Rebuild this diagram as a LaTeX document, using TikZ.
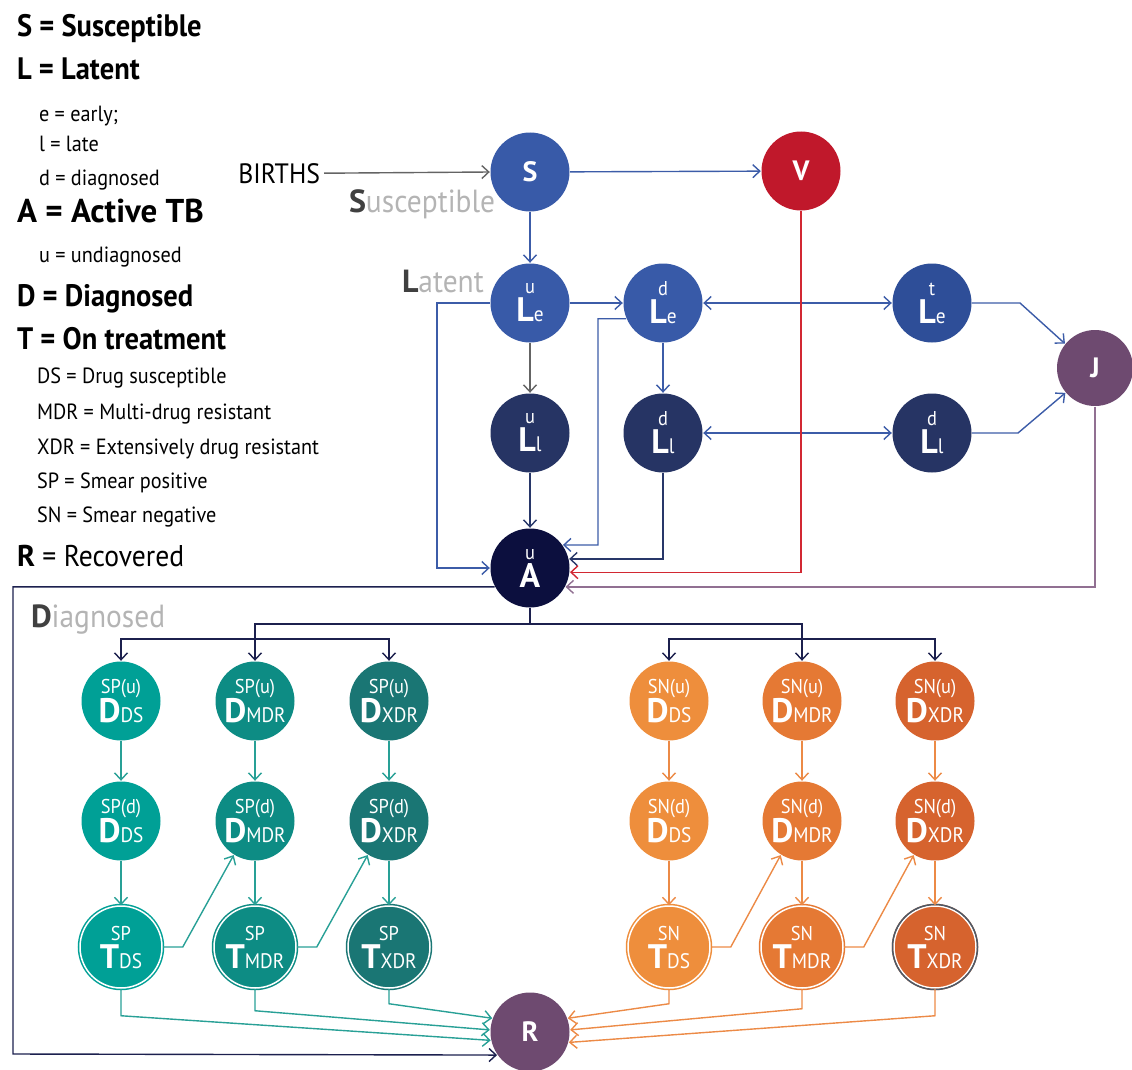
\documentclass[tikz,border=0pt]{standalone}
\usepackage{fontspec}
\setmainfont{PT Sans}[FakeStretch=0.92]
\newfontfamily\widefont{PT Sans}
\usetikzlibrary{arrows.meta}
\definecolor{tbBlue}{RGB}{56,90,168}
\definecolor{tbBlueDk}{RGB}{46,78,152}
\definecolor{tbNavy}{RGB}{38,52,100}
\definecolor{tbInk}{RGB}{12,15,62}
\definecolor{tbRed}{RGB}{192,24,43}
\definecolor{tbPlum}{RGB}{110,74,112}
\definecolor{spA}{RGB}{0,160,150}
\definecolor{spB}{RGB}{13,140,132}
\definecolor{spC}{RGB}{26,118,116}
\definecolor{snA}{RGB}{238,142,60}
\definecolor{snB}{RGB}{229,121,52}
\definecolor{snC}{RGB}{214,99,46}
\definecolor{arBlue}{RGB}{60,92,168}
\definecolor{arGray}{RGB}{100,100,100}
\definecolor{arNavy}{RGB}{40,55,105}
\definecolor{arInk}{RGB}{28,32,78}
\definecolor{arRed}{RGB}{210,40,50}
\definecolor{arPlum}{RGB}{145,112,146}
\definecolor{arTeal}{RGB}{40,160,150}
\definecolor{arOrange}{RGB}{236,138,70}
\definecolor{labGray}{RGB}{180,180,180}
\definecolor{ringGray}{RGB}{75,90,105}
\newcommand{\comp}[3]{{\fontsize{20}{20}\selectfont #1}\\{\widefont\bfseries\fontsize{34}{34}\selectfont #2}{\fontsize{21}{21}\selectfont #3}}
\tikzset{
  comp/.style={circle,fill=#1,text=white,minimum size=79pt,inner sep=0pt,
    align=center,font=\fontsize{20}{28}\selectfont},
  tcomp/.style={comp=#1,minimum size=82pt,draw=#1,double=white,
    line width=1.5pt,double distance=1.5pt},
  single/.style={comp=#1,font=\widefont\bfseries\fontsize{28}{28}\selectfont},
  legbig/.style={anchor=base west,font=\fontsize{31}{31}\selectfont\bfseries},
  legsmall/.style={anchor=base west,font=\fontsize{22}{22}\selectfont},
  tag/.style={anchor=base west,font=\fontsize{32}{32}\selectfont,text=labGray}
}

\begin{document}
\begin{tikzpicture}[x=1pt,y=-1pt,line width=1.4pt,
    >={Straight Barb[length=7pt,width=13pt]}]
  \useasboundingbox (0,0) rectangle (1132,1070);
  % legend
  \node[legbig] (kS) at (13,37) {S = Susceptible};
  \node[legbig] (kL) at (13,80) {L = Latent};
  \node[legsmall] (ke) at (35,122) {e = early;};
  \node[legsmall] (kl) at (35,152) {l = late};
  \node[legsmall] (kd) at (35,185) {d = diagnosed};
  \node[anchor=base west,font=\widefont\bfseries\fontsize{33}{33}\selectfont] (kA) at (13,222) {A = Active TB};
  \node[legsmall] (ku) at (35,262) {u = undiagnosed};
  \node[legbig] (kD) at (13,306) {D = Diagnosed};
  \node[legbig] (kT) at (13,349) {T = On treatment};
  \node[legsmall] (kDS) at (33,383) {DS = Drug susceptible};
  \node[legsmall] (kMDR) at (33,419) {MDR = Multi-drug resistant};
  \node[legsmall] (kXDR) at (33,454) {XDR = Extensively drug resistant};
  \node[legsmall] (kSP) at (33,488) {SP = Smear positive};
  \node[legsmall] (kSN) at (33,522) {SN = Smear negative};
  \node[anchor=base west,font=\fontsize{30}{30}\selectfont] (kR) at (13,566) {{\widefont\bfseries R} = Recovered};

  % susceptible and latent
  \node[anchor=base east,font=\fontsize{28}{28}\selectfont] (births) at (324,183) {BIRTHS};
  \node[single=tbBlue] (S) at (530,172) {S};
  \node[single=tbRed] (V) at (801,171) {V};
  \node[comp=tbBlue] (Leu) at (530,303) {\comp{u}{L}{e}};
  \node[comp=tbBlue] (Led) at (663,303) {\comp{d}{L}{e}};
  \node[comp=tbBlueDk] (Let) at (932,303) {\comp{t}{L}{e}};
  \node[comp=tbNavy] (Llu) at (530,433) {\comp{u}{L}{l}};
  \node[comp=tbNavy] (Lld) at (663,433) {\comp{d}{L}{l}};
  \node[comp=tbNavy] (Lld2) at (932,433) {\comp{d}{L}{l}};
  \node[single=tbPlum,minimum size=76pt] (J) at (1095,368) {J};
  \node[comp=tbInk] (A) at (530,568) {\comp{u}{A}{}};
  \node[tag] (labS) at (345,212) {{\widefont\bfseries\color{darkgray}S}usceptible};
  \node[tag] (labL) at (398,292) {{\widefont\bfseries\color{darkgray}L}atent};

  \draw[->,arGray] (births.east) -- (S.west);
  \draw[->,arBlue] (S) -- (V);
  \draw[->,arBlue] (S) -- (Leu);
  \draw[->,arBlue] (Leu) -- (Led);
  \draw[->,arGray] (Leu) -- (Llu);
  \draw[->,arBlue] (Led) -- (Lld);
  \draw[<->,arBlue] (Led) -- (Let);
  \draw[<->,arBlue] (Lld) -- (Lld2);
  \draw[->,arBlue] (Let) -- (1020,303) -- (J.141);
  \draw[->,arBlue] (Lld2) -- (1018,433) -- (J.220);
  \draw[->,arBlue] (Leu.west) -| (437,568) -- (A.west);
  \draw[->,arBlue] (Led.203) -| (598,545) -- (A.35);
  \draw[->,arNavy] (Llu) -- (A);
  \draw[->,arNavy] (Lld.south) |- (A.13);
  \draw[->,arRed] (V.south) |- (A.354);
  \draw[->,arPlum] (J.south) |- (A.332);

  % diagnosed
  \node[tag] (labD) at (27,627) {{\widefont\bfseries\color{darkgray}D}iagnosed};
  \foreach \i/\x/\sub/\c in {1/121/DS/spA,2/255/MDR/spB,3/389/XDR/spC} {
    \node[comp=\c] (spu\i) at (\x,701) {\comp{SP(u)}{D}{\sub}};
    \node[comp=\c] (spd\i) at (\x,821) {\comp{SP(d)}{D}{\sub}};
    \node[tcomp=\c] (spt\i) at (\x,947) {\comp{SP}{T}{\sub}};
  }
  \foreach \i/\x/\sub/\c in {1/669/DS/snA,2/802/MDR/snB,3/935/XDR/snC} {
    \node[comp=\c] (snu\i) at (\x,701) {\comp{SN(u)}{D}{\sub}};
    \node[comp=\c] (snd\i) at (\x,821) {\comp{SN(d)}{D}{\sub}};
    \node[tcomp=\c] (snt\i) at (\x,947) {\comp{SN}{T}{\sub}};
  }
  \draw[ringGray,line width=1.5pt] (snt3.center) circle (42.5pt);
  \node[single=tbPlum] (R) at (530,1032) {R};

  \draw[->,arInk] (A.south) -- (530,624) -| (spu2.north);
  \draw[->,arInk] (530,624) -| (snu2.north);
  \draw[->,arInk] (255,639) -| (spu1.north);
  \draw[->,arInk] (255,639) -| (spu3.north);
  \draw[->,arInk] (802,639) -| (snu1.north);
  \draw[->,arInk] (802,639) -| (snu3.north);
  \draw[->,arInk] (A.208) -| (13,1054) -- (R.215);
  \foreach \i in {1,2,3} {
    \draw[->,arTeal] (spu\i) -- (spd\i);
    \draw[->,arTeal] (spd\i) -- (spt\i);
    \draw[->,arOrange] (snu\i) -- (snd\i);
    \draw[->,arOrange] (snd\i) -- (snt\i);
  }
  \draw[->,arTeal] (spt1.east) -- ++(20,0) -- (spd2.238);
  \draw[->,arTeal] (spt2.east) -- ++(20,0) -- (spd3.238);
  \draw[->,arOrange] (snt1.east) -- ++(20,0) -- (snd2.238);
  \draw[->,arOrange] (snt2.east) -- ++(20,0) -- (snd3.238);
  \foreach \i/\dy/\a/\b in {1/27/192/20,2/22/177/3,3/15/160/345} {
    \draw[->,arTeal] (spt\i.south) -- ++(0,\dy) -- (R.\a);
    \draw[->,arOrange] (snt\i.south) -- ++(0,42-\dy) -- (R.\b);
  }
\end{tikzpicture}
\end{document}
